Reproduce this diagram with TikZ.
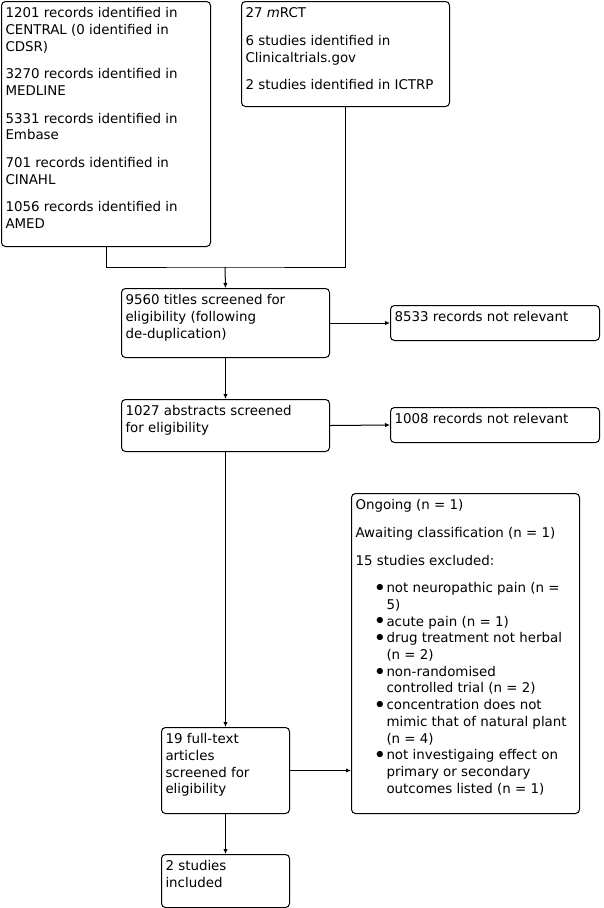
\documentclass[tikz,border=0pt]{standalone}
\usepackage{fontspec}
\setmainfont{DejaVu Sans}
\usetikzlibrary{arrows.meta}
\newcommand{\flowtext}[3]{\parbox[c][#1][t]{#2}{\raggedright\strut #3}}
\newcommand{\bulletitem}[1]{\par\hangindent=31pt\hangafter=1\noindent\hspace*{18pt}\makebox[13pt][l]{\smash{\raisebox{-2.8pt}{\scalebox{1.6}{\textbullet}}}}#1}
\tikzset{
  flowbox/.style={draw, rounded corners=4pt, inner xsep=4pt, inner ysep=4.5pt, anchor=north west},
  flowarrow/.style={-{Latex[length=5pt,width=4.5pt]}}
}

\begin{document}
\begin{tikzpicture}[x=1pt, y=-1pt, line width=1pt, font=\fontsize{13.4}{16.7}\selectfont]
\useasboundingbox (0,0) rectangle (603,908);
\node[flowbox] (databases) at (1,1) {\flowtext{236pt}{201pt}{1201 records identified in\\CENTRAL (0 identified in\\CDSR)\\[11pt]3270 records identified in\\MEDLINE\\[11pt]5331 records identified in\\Embase\\[11pt]701 records identified in\\CINAHL\\[11pt]1056 records identified in\\AMED}};
\node[flowbox] (registers) at (241,1) {\flowtext{96pt}{200pt}{27 \textit{m}RCT\\[11pt]6 studies identified in\\Clinicaltrials.gov\\[11pt]2 studies identified in ICTRP}};
\node[flowbox] (titles) at (121,288) {\flowtext{60pt}{200pt}{9560 titles screened for\\eligibility (following\\de-duplication)}};
\node[flowbox] (titlesout) at (390,305) {\flowtext{26pt}{201pt}{8533 records not relevant}};
\node[flowbox] (abstracts) at (121,399) {\flowtext{43pt}{200pt}{1027 abstracts screened\\for eligibility}};
\node[flowbox] (abstractsout) at (390,407) {\flowtext{26pt}{201pt}{1008 records not relevant}};
\node[flowbox] (excluded) at (351,493) {\flowtext{311pt}{220pt}{Ongoing (n = 1)\\[11pt]Awaiting classification (n = 1)\\[11pt]15 studies excluded:\\[11pt]
\bulletitem{not neuropathic pain (n =\newline 5)}
\bulletitem{acute pain (n = 1)}
\bulletitem{drug treatment not herbal\newline (n = 2)}
\bulletitem{non-randomised\newline controlled trial (n = 2)}
\bulletitem{concentration does not\newline mimic that of natural plant\newline (n = 4)}
\bulletitem{not investigaing effect on\newline primary or secondary\newline outcomes listed (n = 1)}}};
\node[flowbox] (fulltext) at (161,727) {\flowtext{77pt}{120pt}{19 full-text\\articles\\screened for\\eligibility}};
\node[flowbox] (included) at (161,854) {\flowtext{44pt}{120pt}{2 studies\\included}};
\coordinate (merge) at (225,267);
\draw (databases.south) |- (merge) -| (registers.south);
\draw[flowarrow] (merge) -- (titles.north);
\draw[flowarrow] (titles.east) -- (titlesout.west);
\draw[flowarrow] (titles.south) -- (abstracts.north);
\draw[flowarrow] (abstracts.east) -- (abstractsout.west);
\draw[flowarrow] (abstracts.south) -- (fulltext.north);
\draw[flowarrow] (fulltext.east) -- (fulltext.east -| excluded.west);
\draw[flowarrow] (fulltext.south) -- (included.north);
\end{tikzpicture}
\end{document}
